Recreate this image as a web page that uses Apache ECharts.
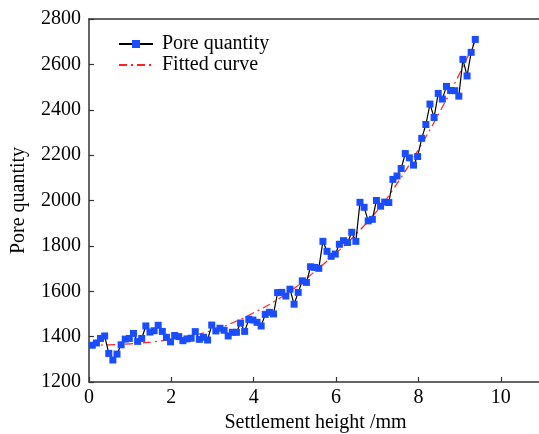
<!DOCTYPE html>
<html>
<head>
<meta charset="utf-8">
<script src="https://cdn.jsdelivr.net/npm/echarts@6/dist/echarts.min.js"></script>
<style>
html,body{margin:0;padding:0;background:#fff;}
#c{width:539px;height:434px;}
</style>
</head>
<body>
<div id="c"></div>
<script>
var xTicks = [0, 2, 4, 6, 8, 10];
var yTicks = [1200, 1400, 1600, 1800, 2000, 2200, 2400, 2600, 2800];

var poreX = [0.08,0.18,0.28,0.38,0.48,0.58,0.68,0.78,0.88,0.98,
  1.08,1.18,1.28,1.38,1.48,1.58,1.68,1.78,1.88,1.98,
  2.08,2.18,2.28,2.38,2.48,2.58,2.68,2.78,2.88,2.98,
  3.08,3.18,3.28,3.38,3.48,3.58,3.68,3.78,3.88,3.98,
  4.08,4.18,4.28,4.38,4.48,4.58,4.68,4.78,4.88,4.98,
  5.08,5.18,5.28,5.38,5.48,5.58,5.68,5.78,5.88,5.98,
  6.08,6.18,6.28,6.38,6.48,6.58,6.68,6.78,6.88,6.98,
  7.08,7.18,7.28,7.38,7.48,7.58,7.68,7.78,7.88,7.98,
  8.08,8.18,8.28,8.38,8.48,8.58,8.68,8.78,8.88,8.98,
  9.08,9.18,9.28,9.38];
var poreY = [1362,1372,1392,1403,1326,1297,1323,1364,1389,1392,
  1414,1379,1392,1447,1420,1426,1450,1423,1397,1377,
  1405,1400,1382,1390,1393,1422,1388,1397,1385,1451,
  1425,1437,1428,1403,1419,1419,1460,1423,1476,1473,
  1463,1447,1498,1507,1500,1594,1595,1579,1609,1543,
  1595,1646,1639,1708,1705,1701,1820,1776,1754,1764,
  1807,1823,1815,1860,1820,1992,1970,1910,1917,2000,
  1975,1993,1991,2093,2108,2141,2207,2188,2156,2194,
  2274,2335,2425,2366,2472,2447,2503,2485,2484,2460,
  2622,2549,2653,2710];

var fitX = [0,0.5,1,1.5,2,2.5,3,3.5,4,4.5,5,5.5,6,6.5,7,7.5,8,8.5,9,9.4];
var fitY = [1362,1364,1368,1376,1388,1404,1428,1462,1505,1555,1615,1690,1768,1855,1955,2080,2225,2385,2560,2715];

var serif = 'Liberation Serif';
var chart = echarts.init(document.getElementById('c'));
var axisCol = '#333333';
chart.setOption({
  animation: false,
  backgroundColor: '#ffffff',
  textStyle: {fontFamily: serif},
  grid: {left: 89, top: 19, width: 453, height: 363, containLabel: false, outerBoundsMode: 'none'},
  legend: {
    orient: 'vertical', left: 118, top: 34, itemGap: 1, padding: 0,
    itemWidth: 34, itemHeight: 10,
    textStyle: {fontFamily: serif, fontSize: 20, color: '#000', padding: [0,0,0,4]},
    data: [
      {name: 'Pore quantity'},
      {name: 'Fitted curve', itemStyle: {opacity: 0}}
    ]
  },
  xAxis: [{
    type: 'value', min: 0, max: 11, interval: 2,
    name: 'Settlement height /mm', nameLocation: 'middle', nameGap: 28,
    nameTextStyle: {fontFamily: serif, fontSize: 20, color: '#000'},
    axisLine: {show: true, onZero: false, lineStyle: {color: axisCol, width: 1.5}},
    axisTick: {show: true, inside: true, length: 5, lineStyle: {color: axisCol, width: 1.2}},
    axisLabel: {fontFamily: serif, fontSize: 20, color: '#000', margin: 6, showMaxLabel: false,
      formatter: function(v){ return xTicks.indexOf(v) >= 0 ? String(v) : ''; }},
    splitLine: {show: false}
  }, {
    type: 'value', position: 'top', min: 0, max: 11,
    axisLine: {show: true, onZero: false, lineStyle: {color: axisCol, width: 1.5}},
    axisTick: {show: false}, axisLabel: {show: false}, splitLine: {show: false}
  }],
  yAxis: [{
    type: 'value', min: 1200, max: 2800, interval: 200,
    name: 'Pore quantity', nameLocation: 'middle', nameGap: 60,
    nameTextStyle: {fontFamily: serif, fontSize: 20, color: '#000'},
    axisLine: {show: true, onZero: false, lineStyle: {color: axisCol, width: 1.5}},
    axisTick: {show: true, inside: true, length: 5, lineStyle: {color: axisCol, width: 1.2}},
    axisLabel: {fontFamily: serif, fontSize: 20, color: '#000', margin: 8,
      formatter: function(v){ return yTicks.indexOf(v) >= 0 ? String(v) : ''; }},
    splitLine: {show: false}
  }],
  series: [{
    name: 'Pore quantity', type: 'line',
    data: poreX.map(function(x, i){ return [x, poreY[i]]; }),
    symbol: 'rect', symbolSize: 7,
    itemStyle: {color: '#1a4dff'},
    lineStyle: {color: '#000000', width: 1.2},
    z: 3
  }, {
    name: 'Fitted curve', type: 'line',
    data: fitX.map(function(x, i){ return [x, fitY[i]]; }),
    smooth: true, showSymbol: false, symbol: 'none', symbolSize: 0,
    itemStyle: {color: '#ff2020'},
    lineStyle: {color: '#ff2020', width: 1.2, type: [8, 4, 2, 4]},
    z: 2
  }]
});
</script>
</body>
</html>
